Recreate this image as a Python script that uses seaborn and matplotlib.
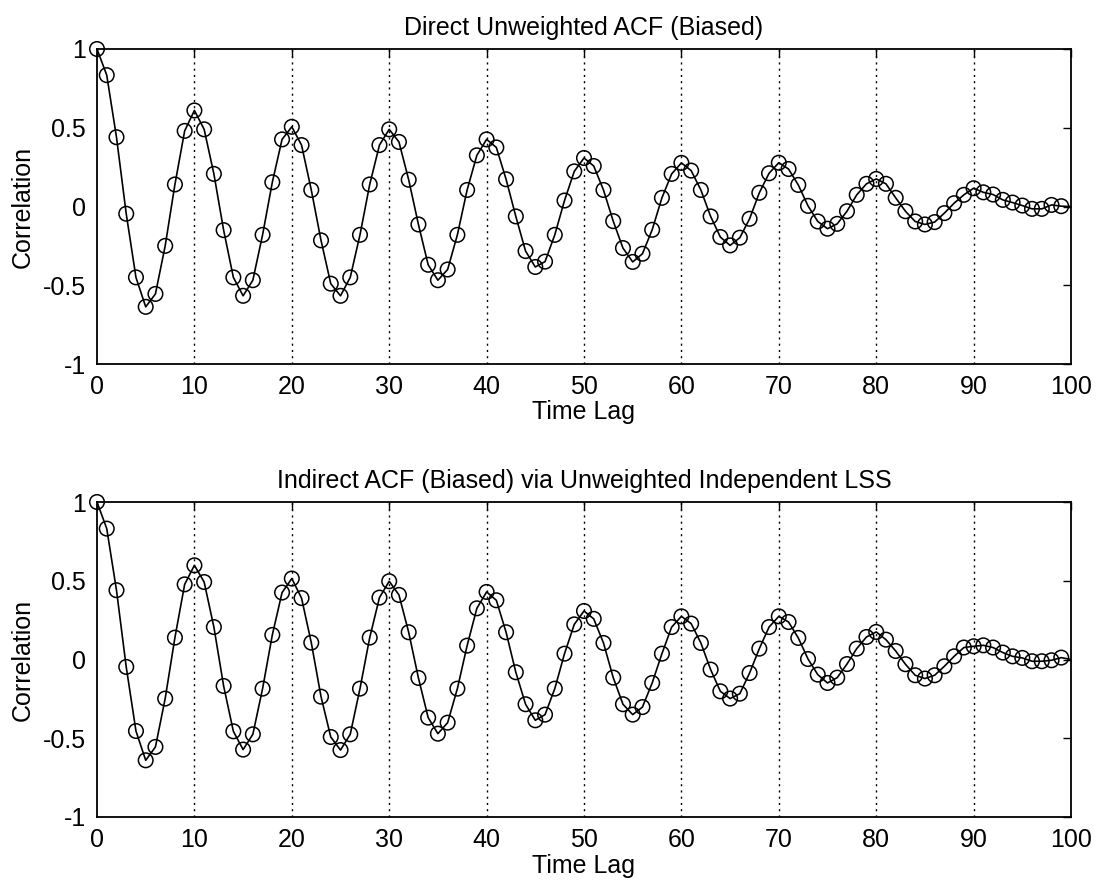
import numpy as np
import pandas as pd
import matplotlib
matplotlib.use("Agg")
import matplotlib.pyplot as plt
import seaborn as sns

# ---- data ----
lags = list(range(0, 100))
direct_acf = [
    1.00, 0.834, 0.44, -0.046, -0.45, -0.637, -0.555, -0.25, 0.14, 0.48,
    0.61, 0.49, 0.207, -0.15, -0.45, -0.567, -0.468, -0.18, 0.154, 0.426,
    0.506, 0.39, 0.105, -0.215, -0.49, -0.567, -0.45, -0.18, 0.14, 0.39,
    0.49, 0.41, 0.17, -0.114, -0.37, -0.468, -0.40, -0.18, 0.105, 0.325,
    0.426, 0.375, 0.173, -0.063, -0.283, -0.384, -0.35, -0.18, 0.038, 0.223,
    0.308, 0.257, 0.105, -0.093, -0.264, -0.352, -0.30, -0.148, 0.055, 0.207,
    0.277, 0.228, 0.105, -0.063, -0.194, -0.247, -0.198, -0.078, 0.087, 0.211,
    0.278, 0.238, 0.137, 0.004, -0.095, -0.141, -0.11, -0.03, 0.074, 0.144,
    0.175, 0.144, 0.055, -0.03, -0.095, -0.114, -0.099, -0.042, 0.021, 0.074,
    0.116, 0.09, 0.076, 0.042, 0.025, 0.006, -0.015, -0.015, 0.01, 0.002,
]
indirect_acf = [
    1.00, 0.831, 0.44, -0.047, -0.454, -0.64, -0.555, -0.248, 0.139, 0.477,
    0.598, 0.492, 0.206, -0.168, -0.456, -0.572, -0.475, -0.185, 0.156, 0.425,
    0.514, 0.39, 0.107, -0.236, -0.492, -0.575, -0.475, -0.185, 0.139, 0.393,
    0.497, 0.41, 0.173, -0.117, -0.369, -0.471, -0.401, -0.185, 0.088, 0.325,
    0.429, 0.376, 0.173, -0.081, -0.284, -0.386, -0.35, -0.185, 0.037, 0.223,
    0.308, 0.258, 0.105, -0.115, -0.284, -0.35, -0.302, -0.149, 0.037, 0.206,
    0.274, 0.228, 0.105, -0.064, -0.202, -0.248, -0.217, -0.086, 0.069, 0.206,
    0.274, 0.238, 0.137, 0.003, -0.096, -0.149, -0.115, -0.029, 0.069, 0.143,
    0.175, 0.126, 0.054, -0.03, -0.1, -0.121, -0.1, -0.043, 0.02, 0.076,
    0.084, 0.09, 0.076, 0.044, 0.02, 0.01, -0.011, -0.011, -0.005, 0.012,
]
end_lag = 100
direct_end = 0.0
indirect_end = 0.0

titles = ["Direct Unweighted ACF (Biased)",
          "Indirect ACF (Biased) via Unweighted Independent LSS"]
x_label = "Time Lag"
y_label = "Correlation"
x_ticks = [0, 10, 20, 30, 40, 50, 60, 70, 80, 90, 100]
y_ticks = [-1, -0.5, 0, 0.5, 1]
y_tick_labels = ["-1", "-0.5", "0", "0.5", "1"]

sns.set_style("white")
plt.rcParams['font.family'] = ['Liberation Sans', 'DejaVu Sans']
plt.rcParams['text.color'] = 'black'
plt.rcParams['axes.labelcolor'] = 'black'
plt.rcParams['xtick.color'] = 'black'
plt.rcParams['ytick.color'] = 'black'

FS = 18

fig = plt.figure(figsize=(11.01, 8.86), dpi=100)
ax_positions = [
    [97 / 1101, 1 - 364 / 886, (1071 - 97) / 1101, (364 - 49) / 886],
    [97 / 1101, 1 - 817 / 886, (1071 - 97) / 1101, (817 - 502) / 886],
]

series = [(direct_acf, direct_end), (indirect_acf, indirect_end)]

for pos, (vals, end_val), title in zip(ax_positions, series, titles):
    ax = fig.add_axes(pos)
    line_df = pd.DataFrame({"lag": lags + [end_lag], "acf": vals + [end_val]})
    pts_df = pd.DataFrame({"lag": lags, "acf": vals})
    # vertical dotted grid
    for xv in x_ticks[1:-1]:
        ax.axvline(xv, color="black", linestyle=(0, (1.5, 3)), linewidth=1.0, zorder=0)
    sns.lineplot(data=line_df, x="lag", y="acf", ax=ax, color="black",
                 linewidth=1.2, estimator=None, sort=False, zorder=2)
    sns.scatterplot(data=pts_df, x="lag", y="acf", ax=ax, marker="o", s=110,
                    facecolors="none", edgecolors="black", linewidths=1.1,
                    zorder=3, clip_on=False)
    ax.set_xlim(0, 100)
    ax.set_ylim(-1, 1)
    ax.set_xticks(x_ticks)
    ax.set_xticklabels([str(t) for t in x_ticks])
    ax.set_yticks(y_ticks)
    ax.set_yticklabels(y_tick_labels)
    ax.tick_params(axis="both", which="both", direction="in", length=6,
                   width=1.0, labelsize=FS, top=True, right=True, color="black",
                   labelcolor="black", pad=8)
    for sp in ax.spines.values():
        sp.set_visible(True)
        sp.set_color("black")
        sp.set_linewidth(1.3)
    ax.set_xlabel(x_label, fontsize=FS, labelpad=1)
    ax.set_ylabel(y_label, fontsize=FS, labelpad=6)
    ax.set_title(title, fontsize=FS, pad=10)

fig.savefig("out.png", dpi=100, facecolor="white")
